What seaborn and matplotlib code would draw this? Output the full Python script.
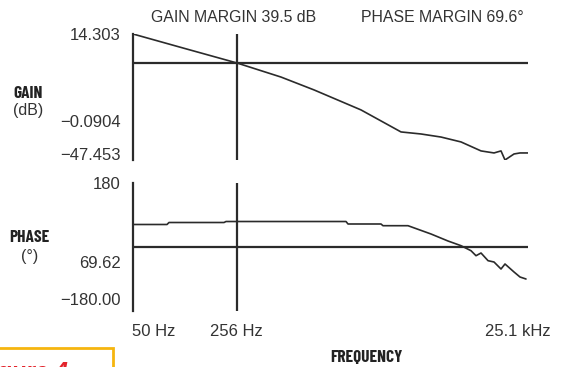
import numpy as np
import pandas as pd
import matplotlib
matplotlib.use("Agg")
import matplotlib.pyplot as plt
import matplotlib.transforms as mtransforms
from matplotlib.patches import Rectangle
import seaborn as sns

# ---- data ----
gain_freq = [50, 113, 257, 514, 864, 1810, 3399, 4656, 6378, 8743, 11980,
             14700, 16410, 17475, 20140, 22130, 25100]
gain_db = [14.303, 7.2, 0.09, -6.8, -13.1, -22.9, -33.7, -34.7, -36.2, -38.6,
           -43.0, -44.0, -43.0, -47.453, -44.5, -44.0, -44.0]

phase_freq = [50, 85.4, 88.1, 209.5, 216.2, 1430, 1476, 2480, 2560, 3795, 5450,
              7120, 8743, 10230, 11070, 11980, 13380, 14700, 16410, 17475,
              20140, 22130, 24320]
phase_deg = [63.3, 63.3, 68.9, 68.9, 71.7, 71.7, 64.7, 64.7, 59.9, 59.9, 36.6,
             16.9, 3.7, -10.4, -24.5, -16.9, -38.5, -42.2, -61.9, -47.8,
             -70.3, -84.4, -90.0]

f_min, f_cross, f_max = 50, 256, 25100
x_ticks = [50, 256, 25100]
x_labels = ["50 Hz", "256 Hz", "25.1 kHz"]
gain_tick_pos = [14.303, -28.3, -44.5]
gain_tick_labels = ["14.303", "\u22120.0904", "\u221247.453"]
phase_tick_pos = [180, -42.2, -146]
phase_tick_labels = ["180", "69.62", "\u2212180.00"]

gain_df = pd.DataFrame({"freq": gain_freq, "gain": gain_db})
phase_df = pd.DataFrame({"freq": phase_freq, "phase": phase_deg})

sns.set_style("white")
plt.rcParams["font.family"] = ["Liberation Sans", "DejaVu Sans"]

W, H = 562, 367
fig = plt.figure(figsize=(W / 100, H / 100), dpi=100)


def px(x, y):
    return x / W, 1 - y / H


line_c = "#2b2b2b"
txt_c = "#333333"
ax_lw = 1.6

# gain panel: x 133..528, y 34..160
ax1 = fig.add_axes([133 / W, 1 - 160 / H, 395 / W, 126 / H])
# phase panel: x 133..528, y 183..311
ax2 = fig.add_axes([133 / W, 1 - 311 / H, 395 / W, 128 / H])

sns.lineplot(data=gain_df, x="freq", y="gain", ax=ax1, color=line_c, lw=1.2)
sns.lineplot(data=phase_df, x="freq", y="phase", ax=ax2, color=line_c, lw=1.2)

for ax, lo, hi in [(ax1, -47.453, 14.303), (ax2, -180, 180)]:
    ax.set_xscale("log")
    ax.set_xlim(f_min, f_max)
    ax.set_ylim(lo, hi)
    ax.axhline(0, color=line_c, lw=ax_lw)
    ax.axvline(f_cross, color=line_c, lw=ax_lw)
    for s in ["top", "right", "bottom"]:
        ax.spines[s].set_visible(False)
    ax.spines["left"].set_color(line_c)
    ax.spines["left"].set_linewidth(ax_lw)
    ax.set_xlabel("")
    ax.set_ylabel("")
    ax.tick_params(axis="both", length=0, labelsize=12, labelcolor=txt_c)
    ax.tick_params(axis="y", pad=9)
    ax.xaxis.set_minor_locator(matplotlib.ticker.NullLocator())

ax1.set_xticks([])
ax1.set_yticks(gain_tick_pos)
ax1.set_yticklabels(gain_tick_labels)
ax2.set_yticks(phase_tick_pos)
ax2.set_yticklabels(phase_tick_labels)
ax2.set_xticks(x_ticks)
ax2.set_xticklabels(x_labels)
ax2.tick_params(axis="x", pad=9)
ax2.xaxis.set_minor_locator(matplotlib.ticker.NullLocator())

xl = ax2.get_xticklabels()
xl[0].set_ha("left")
xl[0].set_transform(xl[0].get_transform() +
                    mtransforms.ScaledTranslation(-1 / 100, 0, fig.dpi_scale_trans))
xl[2].set_transform(xl[2].get_transform() +
                    mtransforms.ScaledTranslation(-10 / 100, 0, fig.dpi_scale_trans))

bold = dict(family=["Barlow Condensed", "Liberation Sans", "DejaVu Sans"],
            fontweight="bold", fontsize=12.5, color="#222222", ha="center", va="center")
fig.text(*px(28, 93), "GAIN", **bold)
fig.text(*px(28, 110), "(dB)", fontsize=11.5, color=txt_c, ha="center", va="center")
fig.text(*px(29, 237), "PHASE", **bold)
fig.text(*px(30, 257), "(\u00b0)", fontsize=11.5, color=txt_c, ha="center", va="center")
fig.text(*px(366, 358), "FREQUENCY", **bold)

fig.text(*px(234, 18), "GAIN MARGIN 39.5 dB", fontsize=11.4, color=txt_c,
         ha="center", va="center")
fig.text(*px(442, 18), "PHASE MARGIN 69.6\u00b0", fontsize=11.4, color=txt_c,
         ha="center", va="center")

# clipped caption box at the bottom left
x0, y0 = px(-5, 400)
fig.patches.append(Rectangle((x0, y0), 118 / W, 52 / H, transform=fig.transFigure,
                             fill=False, edgecolor="#f6b50e", lw=2))
fig.text(*px(68, 361), "Figure 4", fontsize=17, fontweight="bold", fontstyle="italic",
         color="#e3232b", ha="right", va="top")

fig.savefig("out.png", dpi=100)
